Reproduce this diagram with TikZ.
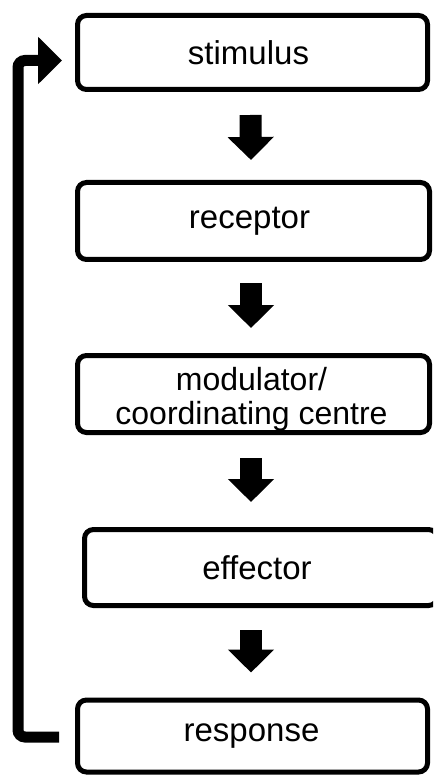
\documentclass[tikz,border=0pt]{standalone}
\usepackage{fontspec}
\setmainfont{Liberation Sans}
\usetikzlibrary{arrows.meta,calc}
\begin{document}
\begin{tikzpicture}[x=1pt,y=-1pt,
  box/.style={draw=black, line width=5pt, rounded corners=9pt, fill=white,
    minimum width=350pt, minimum height=74pt, inner sep=0pt,
    font=\fontsize{33}{36}\selectfont, align=center},
  label/.style={inner sep=0pt, align=center, font=\fontsize{32}{34}\selectfont},
  blockarrow/.style={line width=22pt, -{Triangle[width=45pt,length=23pt]}},
  feedback/.style={line width=11pt, rounded corners=7pt, -{Triangle[width=46pt,length=24pt]}}]
\clip (0,0) rectangle (433,775);
\fill[white] (0,0) rectangle (433,775);
\node[box] (stim) at (252.5,52.5) {\hspace*{-8pt}stimulus};
\node[box, minimum width=352pt, minimum height=77pt] (rec) at (253.5,221) {\hspace*{-8pt}receptor};
\node[box, minimum width=352pt, minimum height=77pt] (mod) at (253.5,394) {};
\node[label] (modtext) at ([xshift=-2pt,yshift=-5pt]mod.center) {modulator/\\coordinating centre};
\node[box, minimum width=353pt, minimum height=76pt] (eff) at (261,567.5) {\hspace*{-8pt}effector};
\node[box, minimum width=350pt, minimum height=72pt] (resp) at (252.5,736) {\hspace*{-2pt}response};
\draw[blockarrow] ([xshift=-2pt,yshift=-23pt]stim.south) -- ([xshift=-2.5pt,yshift=20pt]rec.north);
\draw[blockarrow] ([xshift=-2.5pt,yshift=-21pt]rec.south) -- ([xshift=-2.5pt,yshift=25pt]mod.north);
\draw[blockarrow] ([xshift=-2.5pt,yshift=-23pt]mod.south) -- ([xshift=-10pt,yshift=25pt]eff.north);
\draw[blockarrow] ([xshift=-10pt,yshift=-22pt]eff.south) -- ([xshift=-1.5pt,yshift=25pt]resp.north);
\coordinate (fbstart) at ([xshift=-16pt,yshift=-1pt]resp.west);
\coordinate (fbend) at ([xshift=-13pt,yshift=-8pt]stim.west);
\coordinate (fbx) at (18,0);
\draw[feedback] (fbstart) -- (fbx |- fbstart) -- (fbx |- fbend) -- (fbend);
\end{tikzpicture}
\end{document}
